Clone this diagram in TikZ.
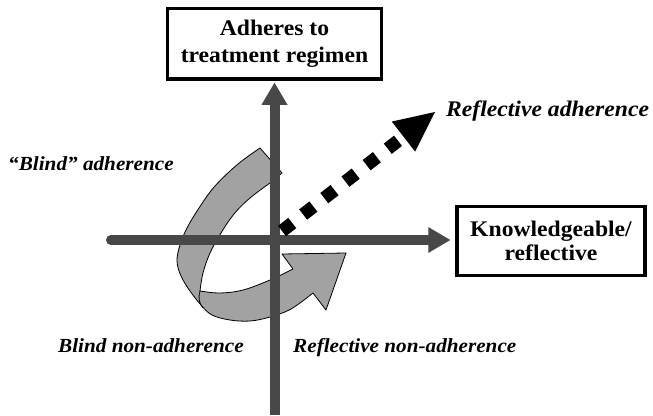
\documentclass[tikz,border=0pt]{standalone}
\usepackage{fontspec}
\setmainfont{Liberation Serif}[FakeStretch=1.06]
\usetikzlibrary{arrows.meta}
\definecolor{axisgray}{RGB}{72,72,72}
\definecolor{ribbongray}{RGB}{162,162,162}
\begin{document}
\begin{tikzpicture}[x=1pt,y=-1pt,
  box/.style={draw=black, line width=3.5pt, fill=white, align=center, inner sep=0pt},
  lab/.style={font=\fontsize{20}{24}\selectfont\bfseries\itshape, inner sep=0pt, anchor=base west},
  axisline/.style={draw=axisgray, line width=10pt, -{Triangle[length=22pt,width=26pt,line width=0pt]}},
  dotarrow/.style={draw=black, line width=13pt, line cap=butt, dash pattern=on 13pt off 13.8pt,
                   -{Triangle[length=40pt,width=38pt,line width=0pt]}},
  ribbon/.style={draw=black, line width=0.8pt, fill=ribbongray, line join=round}
]
\useasboundingbox (0,0) rectangle (653,415);

% twisted ribbon arrow
\path[ribbon]
 (260,148) -- (282,173) -- (270,183)
 -- plot[smooth, tension=0.6] coordinates {(270,183) (250,198) (234,214) (221,233) (210,253) (203,273) (200,291)}
 -- plot[smooth, tension=0.6] coordinates {(200,291) (220,293) (243,290) (270,280) (293,269)}
 -- (282,254) -- (346,253) -- (326,310) -- (313,293)
 -- plot[smooth, tension=0.6] coordinates {(313,293) (291,309) (270,317) (250,321) (230,320) (212,315) (201,305) (190,291) (181,276) (177,261) (180,245) (187,228) (199,208) (215,186) (238,164) (260,148)}
 -- cycle;
\draw[black, line width=0.8pt] (200,291) .. controls (198,298) and (199,303) .. (203,308);

% boxes
\node[box, minimum width=214pt, minimum height=70.5pt,
      font=\fontsize{22.3}{27}\selectfont\bfseries] (topbox) at (274.5,43.75)
      {Adheres to\\treatment regimen};
\node[box, minimum width=188pt, minimum height=69pt,
      font=\fontsize{22.3}{24}\selectfont\bfseries] (kbox) at (551,241)
      {Knowledgeable/\\reflective};

% axes
\coordinate (hstart) at (111,240);
\coordinate (vbot) at (274.5,415);
\draw[axisline, line cap=round] (hstart) -- ([xshift=-5pt]hstart -| kbox.west);
\draw[axisline] (vbot) -- ([yshift=-2pt]topbox.south);

% dotted arrow
\coordinate (dstart) at (282,231);
\coordinate (dtip) at (435,112);
\draw[dotarrow] (dstart) -- (dtip);

% labels
\node[lab] (bad) at (8,170.5) {“Blind” adherence};
\node[lab, font=\fontsize{22.3}{26}\selectfont\bfseries\itshape] (ra) at (446,116) {Reflective adherence};
\node[lab] (bna) at (58,352) {Blind non-adherence};
\node[lab] (rna) at (293,352) {Reflective non-adherence};
\end{tikzpicture}
\end{document}
